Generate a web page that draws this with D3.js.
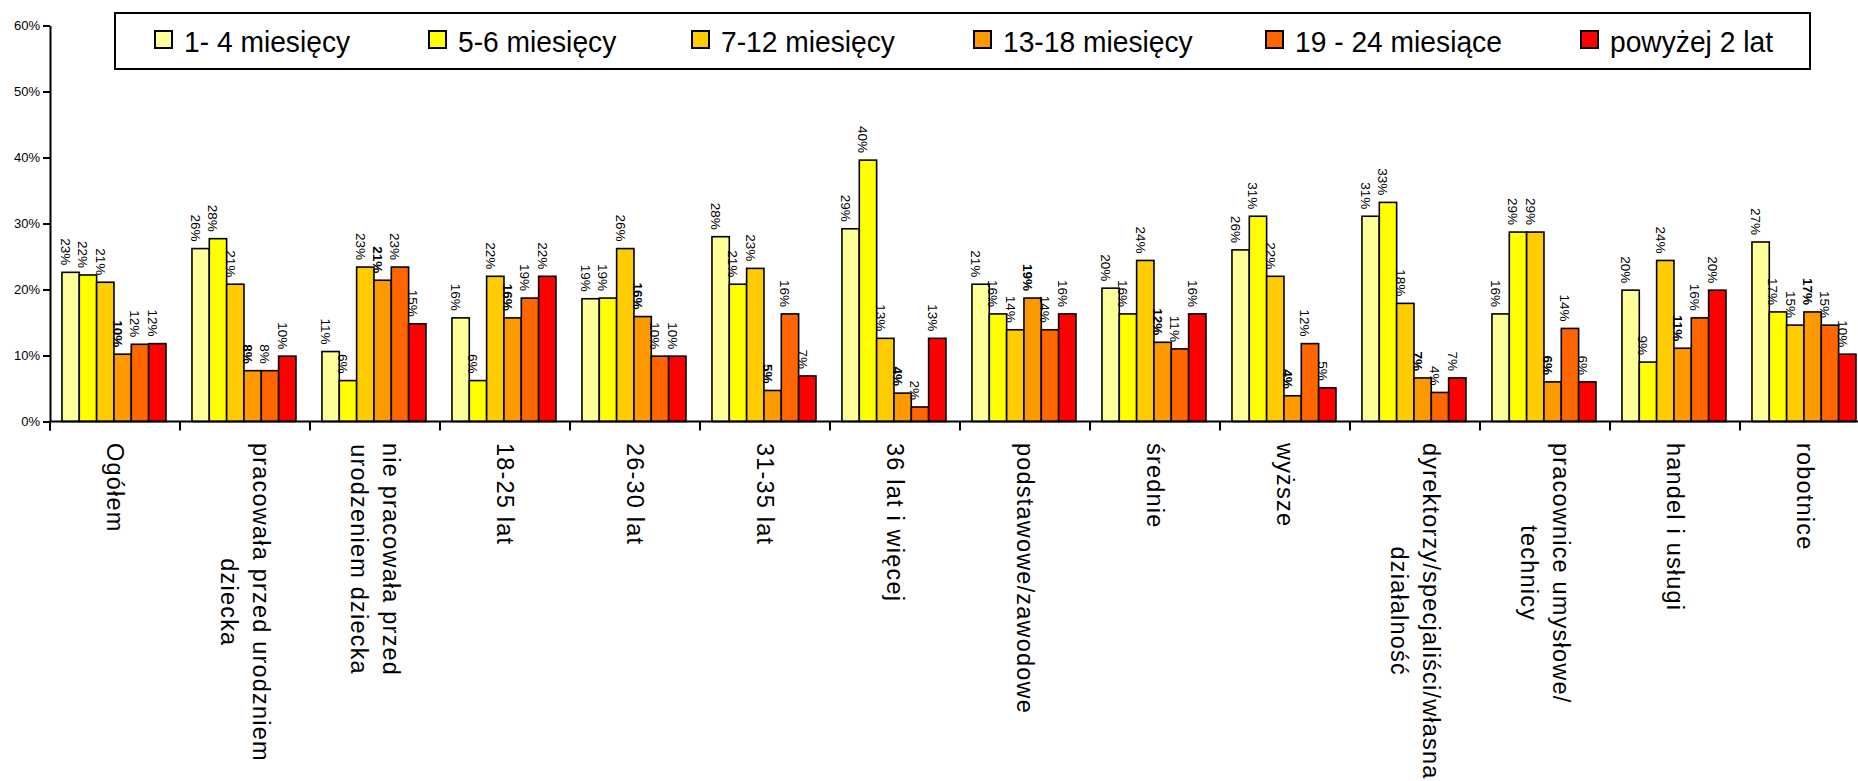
<!DOCTYPE html>
<html>
<head>
<meta charset="utf-8">
<script src="https://cdn.jsdelivr.net/npm/d3@7"></script>
<style>
  body { margin: 0; background: #fff; }
  svg { display: block; }
  text { font-family: "Liberation Sans", Arial, Helvetica, sans-serif; fill: #000; }
</style>
</head>
<body>
<svg id="chart" width="1858" height="781"></svg>
<script>
// Categories (line breaks marked with \n)
const categories = [
  "Ogółem",
  "pracowała przed urodzniem\ndziecka",
  "nie pracowała przed\nurodzeniem dziecka",
  "18-25 lat",
  "26-30 lat",
  "31-35 lat",
  "36 lat i więcej",
  "podstawowe/zawodowe",
  "średnie",
  "wyższe",
  "dyrektorzy/specjaliści/własna\ndziałalność",
  "pracownice umysłowe/\ntechnicy",
  "handel i usługi",
  "robotnice"
];

// Series names (legend)
const seriesNames = [
  "1- 4 miesięcy",
  "5-6 miesięcy",
  "7-12 miesięcy",
  "13-18 miesięcy",
  "19 - 24 miesiące",
  "powyżej 2 lat"
];

// Shares in percent, one array per series, in category order
const months1to4   = [22.6, 26.2, 10.6, 15.7, 18.6, 28.0, 29.2, 20.8, 20.2, 26.0, 31.1, 16.3, 19.9, 27.2];
const months5to6   = [22.2, 27.7,  6.2,  6.2, 18.7, 20.8, 39.6, 16.3, 16.3, 31.1, 33.2, 28.7,  9.0, 16.6];
const months7to12  = [21.1, 20.8, 23.4, 22.0, 26.2, 23.2, 12.6, 13.9, 24.4, 22.0, 17.9, 28.7, 24.4, 14.6];
const months13to18 = [10.2,  7.7, 21.4, 15.7, 15.9,  4.7,  4.3, 18.7, 12.0,  3.9,  6.6,  6.0, 11.1, 16.6];
const months19to24 = [11.7,  7.7, 23.4, 18.7,  9.9, 16.3,  2.2, 13.9, 11.0, 11.8,  4.4, 14.1, 15.7, 14.6];
const over2years   = [11.8,  9.9, 14.8, 22.0,  9.9,  6.9, 12.6, 16.3, 16.3,  5.1,  6.6,  6.0, 19.9, 10.2];

const seriesValues = [months1to4, months5to6, months7to12, months13to18, months19to24, over2years];

// Y axis tick values (percent)
const yTicks = [0, 10, 20, 30, 40, 50, 60];

// ---- styling ----
const colors = ["#FFFF99", "#FFFF00", "#FFCC00", "#FF9900", "#FF6600", "#FF0000"];
const boldSeries = 3;   // the 13-18 month labels are printed in bold

const svg = d3.select("#chart");

const plotLeft = 50, plotRight = 1870, plotTop = 25.5, plotBottom = 421.5;

const x0 = d3.scaleBand().domain(categories).range([plotLeft, plotRight]).padding(0);
const x1 = d3.scaleBand().domain(d3.range(seriesNames.length))
  .range([0, x0.bandwidth()]).paddingInner(0).paddingOuter(0.75).align(0.46);
const y = d3.scaleLinear().domain([0, 60]).range([plotBottom, plotTop]);

// ---- bars ----
const groups = svg.append("g").selectAll("g.cat")
  .data(categories)
  .join("g")
  .attr("class", "cat")
  .attr("transform", c => `translate(${x0(c)},0)`);

groups.each(function (c, ci) {
  const g = d3.select(this);
  const rows = seriesValues.map((arr, si) => ({ si, v: arr[ci] }));
  g.selectAll("rect")
    .data(rows)
    .join("rect")
    .attr("x", d => x1(d.si))
    .attr("y", d => y(d.v))
    .attr("width", x1.bandwidth())
    .attr("height", d => y(0) - y(d.v))
    .attr("fill", d => colors[d.si])
    .attr("stroke", "#000")
    .attr("stroke-width", 1.6);

  g.selectAll("text.val")
    .data(rows)
    .join("text")
    .attr("class", "val")
    .attr("transform", d => `translate(${x1(d.si) + x1.bandwidth() / 2 - 5},${y(d.v) - 7}) rotate(90)`)
    .attr("text-anchor", "end")
    .attr("dy", "0.35em")
    .style("font-size", "13.5px")
    .style("font-weight", d => d.si === boldSeries ? "bold" : "normal")
    .text(d => d3.format(".0f")(d.v) + "%");
});

// ---- y axis ----
const yAxis = svg.append("g")
  .attr("transform", `translate(${plotLeft},0)`)
  .call(d3.axisLeft(y).tickValues(yTicks).tickFormat(d => d + "%").tickSize(7).tickSizeOuter(0).tickPadding(3));
yAxis.select(".domain").attr("stroke", "#000").attr("stroke-width", 2);
yAxis.selectAll(".tick line").attr("stroke", "#000").attr("stroke-width", 2);
yAxis.selectAll(".tick text").style("font-size", "13px").style("font-family", "'Liberation Sans', Arial, sans-serif").attr("fill", "#000");

// extend the y axis line down to the category tick length
svg.append("line")
  .attr("x1", plotLeft).attr("x2", plotLeft)
  .attr("y1", plotBottom).attr("y2", plotBottom + 9)
  .attr("stroke", "#000").attr("stroke-width", 2);

// ---- x axis ----
svg.append("line")
  .attr("x1", plotLeft).attr("x2", plotRight)
  .attr("y1", plotBottom).attr("y2", plotBottom)
  .attr("stroke", "#000").attr("stroke-width", 2);

svg.append("g").selectAll("line")
  .data(categories)
  .join("line")
  .attr("x1", c => x0(c)).attr("x2", c => x0(c))
  .attr("y1", plotBottom).attr("y2", plotBottom + 9)
  .attr("stroke", "#000").attr("stroke-width", 2);

// ---- category labels (rotated, reading downward) ----
const labelTop = 443, lineGap = 32;
const catLabels = svg.append("g").selectAll("g")
  .data(categories)
  .join("g")
  .attr("transform", c => `translate(${x0(c) + x0.bandwidth() / 2},${labelTop}) rotate(90)`);

catLabels.each(function (c) {
  const g = d3.select(this);
  const lines = c.split("\n");
  const n = lines.length;
  const texts = g.selectAll("text")
    .data(lines)
    .join("text")
    .attr("y", (d, i) => (i - (n - 1) / 2) * lineGap)
    .attr("dy", "0.35em")
    .attr("text-anchor", "start")
    .style("font-size", "23.5px")
    .style("letter-spacing", "1.2px")
    .text(d => d);
  const lens = texts.nodes().map(t => t.getComputedTextLength());
  const maxLen = d3.max(lens);
  texts.attr("x", (d, i) => (maxLen - lens[i]) / 2);
});

// ---- legend ----
const legend = svg.append("g");
legend.append("rect")
  .attr("x", 115).attr("y", 13)
  .attr("width", 1695).attr("height", 56)
  .attr("fill", "#fff").attr("stroke", "#000").attr("stroke-width", 2);

const legendX = [155, 429, 692, 974, 1266, 1581];
const items = legend.selectAll("g.item")
  .data(seriesNames)
  .join("g")
  .attr("class", "item")
  .attr("transform", (d, i) => `translate(${legendX[i]},0)`);
items.append("rect")
  .attr("x", 0).attr("y", 31)
  .attr("width", 17).attr("height", 17)
  .attr("fill", (d, i) => colors[i])
  .attr("stroke", "#000").attr("stroke-width", 2);
items.append("text")
  .attr("transform", "translate(29,51.5) scale(0.94,1)")
  .style("font-size", "30px")
  .text(d => d);
</script>
</body>
</html>
